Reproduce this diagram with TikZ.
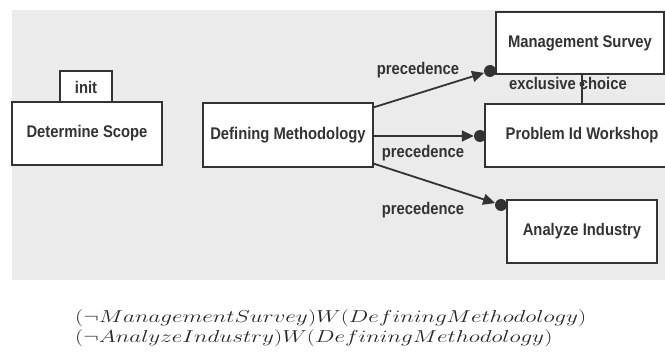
\documentclass[tikz,border=0pt]{standalone}
\usepackage{fontspec}
\usepackage{graphicx}
\setmainfont{Liberation Sans}
\usetikzlibrary{arrows.meta,calc}
\definecolor{bg}{HTML}{EBEBEB}
\definecolor{ink}{HTML}{333333}
\newcommand\fml[1]{\scalebox{1.34}[1]{\fontsize{17}{20}\selectfont$#1$}}
\newcommand\tl[1]{\scalebox{1}[1.14]{#1}}
\tikzset{
  box/.style={draw=ink, fill=white, line width=1.3pt, font=\fontsize{14.8}{17}\selectfont\bfseries, text=ink, inner sep=0pt},
  lbl/.style={font=\fontsize{14.8}{17}\selectfont\bfseries, text=ink, inner sep=0pt},
  dotn/.style={circle, fill=ink, inner sep=0pt, minimum size=12pt},
  flow/.style={draw=ink, line width=1.8pt, -{Triangle[length=12pt,width=11pt]}},
  fmlnode/.style={anchor=base west, inner sep=0pt, text=black!85},
}
\begin{document}
\begin{tikzpicture}[x=1pt,y=-1pt]
\useasboundingbox (0,0) rectangle (665,358);
\fill[bg] (12,10) rectangle (665,280);
\begin{scope}
\clip (0,0) rectangle (665,358);
\node[box, minimum width=52pt, minimum height=32pt] (init) at (86,87) {\tl{init}};
\node[box, minimum width=150pt, minimum height=63pt] (ds) at (87,133.5) {\tl{Determine Scope}};
\node[box, minimum width=170pt, minimum height=64pt] (dm) at (288,135) {\tl{Defining Methodology}};
\node[box, minimum width=168pt, minimum height=62pt] (ms) at (580,43) {\tl{Management Survey}};
\node[box, minimum width=182pt, minimum height=63pt] (pw) at (576,135.5) {\hspace*{12pt}\tl{Problem Id Workshop}};
\node[box, minimum width=150pt, minimum height=63pt] (ai) at (582,231.5) {\tl{Analyze Industry}};

\node[dotn] (d1) at (490,71) {};
\node[dotn] (d2) at (480,136) {};
\node[dotn] (d3) at (501,205) {};
\coordinate (s1) at ($(dm.north east)+(0,5)$);
\coordinate (s2) at ($(dm.east)+(0,1)$);
\coordinate (s3) at ($(dm.south east)+(0,-4)$);
\draw[flow] (s1) -- (d1);
\draw[flow] (s2) -- (d2);
\draw[flow] (s3) -- (d3);

\coordinate (xa) at (pw.north -| 582,0);
\coordinate (xb) at (ms.south -| 582,0);
\draw[ink, line width=1.6pt] (xa) -- (xb);
\node[circle, fill=ink, inner sep=0pt, minimum size=5pt] (xd) at (582,84) {};

\node[lbl] (l1) at (418,70) {\tl{precedence}};
\node[lbl] (l2) at (423,153) {\tl{precedence}};
\node[lbl] (l3) at (423,210) {\tl{precedence}};
\node[lbl] (lx) at (568,83) {\tl{exclusive choice}};
\end{scope}

\node[fmlnode] (f1) at (75,323) {\fml{(\neg ManagementSurvey)W(DefiningMethodology)}};
\node[fmlnode] (f2) at (75,343) {\fml{(\neg AnalyzeIndustry)W(DefiningMethodology)}};
\end{tikzpicture}
\end{document}
